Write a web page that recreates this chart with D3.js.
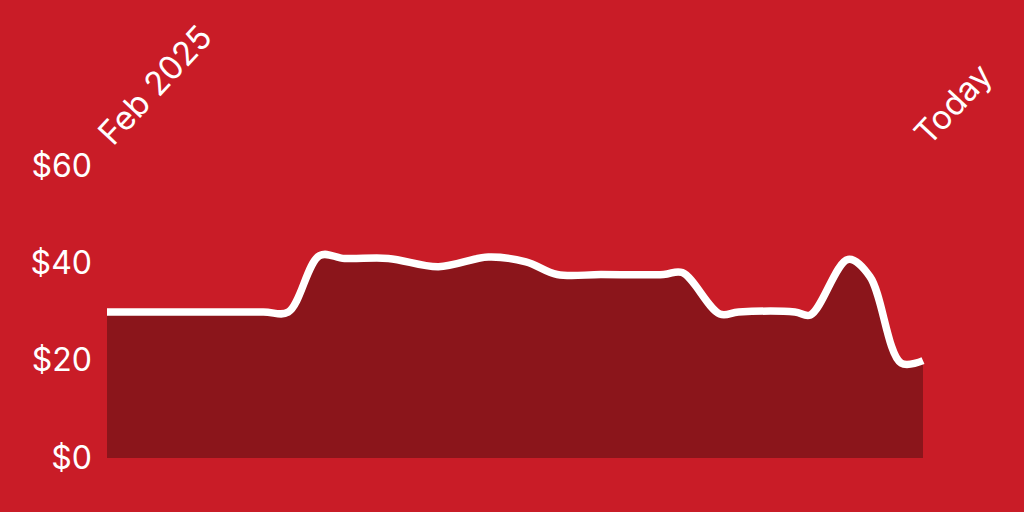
<!DOCTYPE html>
<html>
<head>
<meta charset="utf-8">
<script src="https://cdn.jsdelivr.net/npm/d3@7"></script>
<style>
  html, body { margin: 0; padding: 0; background: #c91c27; }
  svg { display: block; }
  text { font-family: Inter, "Liberation Sans", sans-serif; fill: #fff; }
</style>
</head>
<body>
<svg id="chart"></svg>
<script>
// price history
var dates = ['2025-02-01','2025-02-24','2025-03-23','2025-03-31','2025-04-10','2025-04-18',
             '2025-05-02','2025-05-18','2025-06-03','2025-06-15','2025-06-25','2025-07-09',
             '2025-07-29','2025-08-04','2025-08-16','2025-08-22','2025-09-09','2025-09-14',
             '2025-09-26','2025-10-03','2025-10-13','2025-10-20']
var prices = [30, 30, 30, 30, 41.6, 41, 41, 39.3, 41.3, 40.3, 37.7, 37.7,
              37.7, 38.1, 29.6, 30, 30, 29.4, 40.8, 37.3, 19.5, 20]
var yTicks = [0, 20, 40, 60]
var xLabels = ['Feb 2025', 'Today']

var screen = { width: 1024, height: 512 }
var margins = { top: 166, bottom: 54, left: 107, right: 101 }
var width = screen.width - margins.left - margins.right
var height = screen.height - margins.top - margins.bottom

var parse = d3.utcParse('%Y-%m-%d')
var data = dates.map(function(d, i){ return { date: parse(d), price: prices[i] } })

var xScale = d3.scaleUtc()
  .domain(d3.extent(data, function(d){ return d.date }))
  .range([0, width])

var yScale = d3.scaleLinear()
  .domain([0, 60])
  .range([height, 0])

var svg = d3.select('#chart')
  .attr('width', screen.width)
  .attr('height', screen.height)

svg.append('rect')
  .attr('width', screen.width)
  .attr('height', screen.height)
  .attr('fill', '#c91c27')

var plot = svg.append('g')
  .attr('transform', 'translate(' + margins.left + ',' + margins.top + ')')

var area = d3.area()
  .x(function(d){ return xScale(d.date) })
  .y0(yScale(0))
  .y1(function(d){ return yScale(d.price) })
  .curve(d3.curveCatmullRom)

var line = d3.line()
  .x(function(d){ return xScale(d.date) })
  .y(function(d){ return yScale(d.price) })
  .curve(d3.curveCatmullRom)

plot.append('path')
  .datum(data)
  .attr('d', area)
  .attr('fill', '#8b151b')

plot.append('path')
  .datum(data)
  .attr('d', line)
  .attr('fill', 'none')
  .attr('stroke', '#fff')
  .attr('stroke-width', 7.5)

// y axis labels, no axis line
var yAxis = d3.axisLeft(yScale)
  .tickValues(yTicks)
  .tickSize(0)
  .tickPadding(15)
  .tickFormat(function(d){ return '$' + d })

plot.append('g')
  .call(yAxis)
  .call(function(g){ g.select('.domain').remove() })
  .selectAll('text')
  .attr('fill', '#fff')
  .attr('font-size', '32px')
  .attr('font-family', 'Inter, "Liberation Sans", sans-serif')

// start and end labels, rotated
var ends = d3.extent(data, function(d){ return d.date })
plot.selectAll('.xlab')
  .data(xLabels)
  .enter()
  .append('text')
  .attr('class', 'xlab')
  .attr('transform', function(d, i){
    return 'translate(' + (xScale(ends[i]) + 6) + ',' + (-19) + ') rotate(-47)'
  })
  .attr('font-size', '33px')
  .text(function(d){ return d })
</script>
</body>
</html>
